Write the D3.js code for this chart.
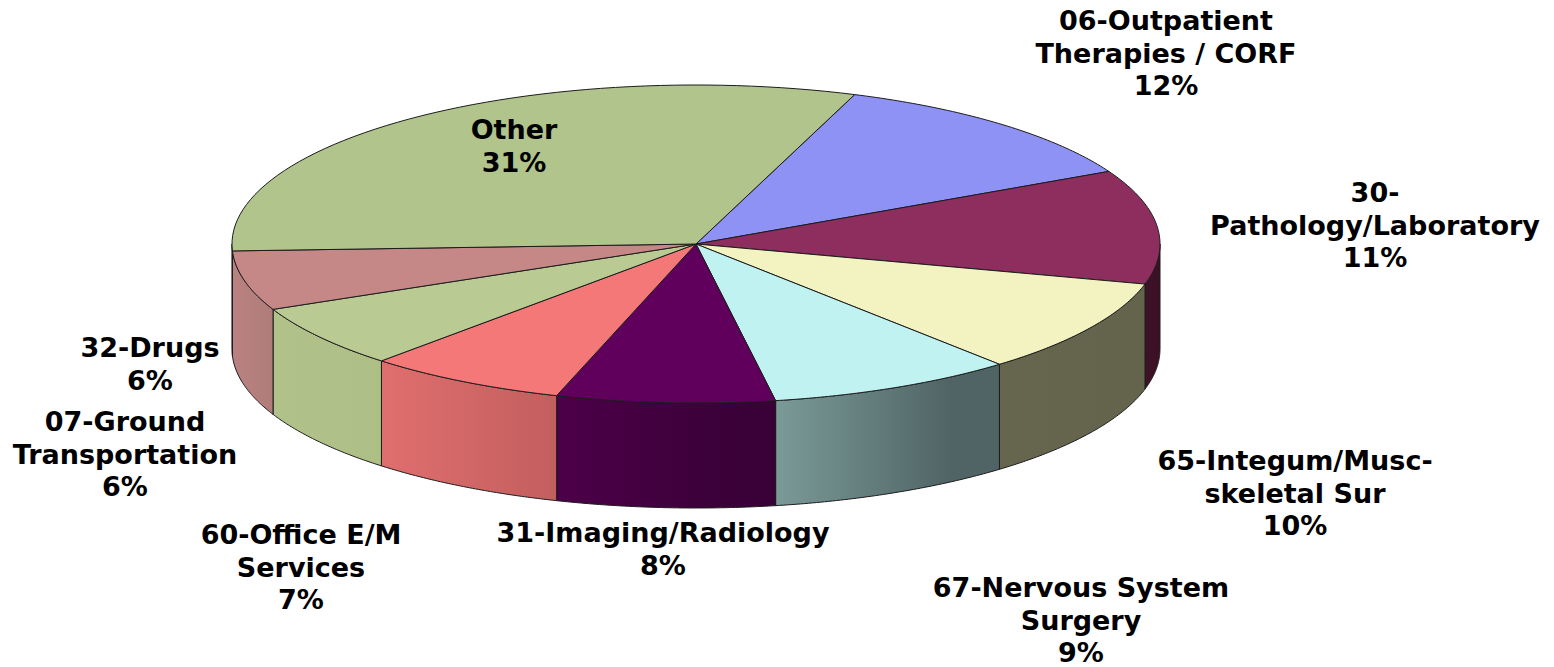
<!DOCTYPE html>
<html lang="en">
<head>
    <meta charset="UTF-8">
    <title>3D Pie</title>
    <script src="https://d3js.org/d3.v7.js"></script>
    <style>
        html, body { margin: 0; padding: 0; background: #fff; }
        svg { display: block; }
        text { font-family: "DejaVu Sans", sans-serif; font-weight: bold; fill: #000; }
    </style>
</head>
<body>
<svg></svg>
<script>
    // slices, clockwise from the Other/06 edge
    const categories = ["06", "30", "65", "67", "31", "60", "07", "32", "Other"];
    const shares = [11.9, 11.6, 9.6, 8.6, 7.6, 7.0, 6.4, 6.05, 31.25];
    const labelLines = [
        ["06-Outpatient", "Therapies / CORF", "12%"],
        ["30-", "Pathology/Laboratory", "11%"],
        ["65-Integum/Musc-", "skeletal Sur", "10%"],
        ["67-Nervous System", "Surgery", "9%"],
        ["31-Imaging/Radiology", "8%"],
        ["60-Office E/M", "Services", "7%"],
        ["07-Ground", "Transportation", "6%"],
        ["32-Drugs", "6%"],
        ["Other", "31%"]
    ];
    const topColors = ["#8F92F5", "#8D2E5E", "#F3F2C1", "#C0F2F2", "#60005C", "#F47878", "#B9CB92", "#C58886", "#B0C48C"];
    const wallFrom = ["#8F92F5", "#3E1228", "#66664E", "#7A9A98", "#4C0048", "#E06E6E", "#B0C28A", "#B98280", "#B0C48C"];
    const wallTo = ["#8F92F5", "#3A1025", "#64644C", "#506466", "#3A0038", "#C25F5E", "#AEBF86", "#B07C7A", "#B0C48C"];
    const wallStop = [1, 1, 1, 0.78, 0.8, 1, 1, 1, 1];

    // label centre x and first baseline
    const labelX = [1166, 1375, 1295, 1081, 663, 301, 125, 150, 514];
    const labelY = [30, 202, 470, 597, 542, 544, 431, 357, 139];
    const lineStep = 32.6;

    const width = 1554, height = 667;
    const cx = 696, cy = 244, rx = 464, ry = 159, depth = 105;
    const deg = Math.PI / 180;

    const svg = d3.select("svg").attr("width", width).attr("height", height);

    const xScale = d3.scaleLinear().domain([-1, 1]).range([cx - rx, cx + rx]);
    const yScale = d3.scaleLinear().domain([-1, 1]).range([cy - ry, cy + ry]);

    const pie = d3.pie().sort(null).startAngle(20 * deg).endAngle(380 * deg);
    const slices = pie(shares);

    // sample an arc of the rim, in pie angle
    const rim = (a, b) => d3.range(0, 61).map(i => a + (b - a) * i / 60);
    const line = d3.line()
        .x(t => xScale(Math.sin(t)))
        .y(t => yScale(-Math.cos(t)));

    const defs = svg.append("defs");
    slices.forEach((s, i) => {
        let g = defs.append("linearGradient").attr("id", "wall" + i);
        g.append("stop").attr("offset", 0).attr("stop-color", wallFrom[i]);
        g.append("stop").attr("offset", wallStop[i]).attr("stop-color", wallTo[i]);
    });

    // walls: only the front half of the rim shows
    const wallG = svg.append("g");
    slices.forEach((s, i) => {
        let a = Math.max(s.startAngle, 90 * deg);
        let b = Math.min(s.endAngle, 270 * deg);
        if (b <= a) return;
        let pts = rim(a, b);
        // bottom edge is the same curve pushed down by the depth
        let p = d3.path();
        pts.forEach((t, k) => {
            let x = xScale(Math.sin(t)), y = yScale(-Math.cos(t));
            k ? p.lineTo(x, y) : p.moveTo(x, y);
        });
        pts.slice().reverse().forEach(t => {
            p.lineTo(xScale(Math.sin(t)), yScale(-Math.cos(t)) + depth);
        });
        p.closePath();
        wallG.append("path")
            .attr("d", p.toString())
            .attr("fill", "url(#wall" + i + ")")
            .attr("stroke", "#1c1c1c")
            .attr("stroke-width", 1)
            .attr("stroke-linejoin", "round");
    });

    // top faces
    svg.append("g").selectAll("path")
        .data(slices)
        .join("path")
        .attr("d", s => "M" + cx + "," + cy + "L" + line(rim(s.startAngle, s.endAngle)).slice(1) + "Z")
        .attr("fill", (s, i) => topColors[i])
        .attr("stroke", "#1c1c1c")
        .attr("stroke-width", 1)
        .attr("stroke-linejoin", "round");

    // labels
    const labels = svg.append("g").selectAll("text")
        .data(categories)
        .join("text")
        .attr("text-anchor", "middle")
        .attr("font-size", 27);
    labels.each(function (d, i) {
        d3.select(this).selectAll("tspan")
            .data(labelLines[i])
            .join("tspan")
            .attr("x", labelX[i])
            .attr("y", (l, k) => labelY[i] + k * lineStep)
            .text(l => l);
    });
</script>
</body>
</html>
